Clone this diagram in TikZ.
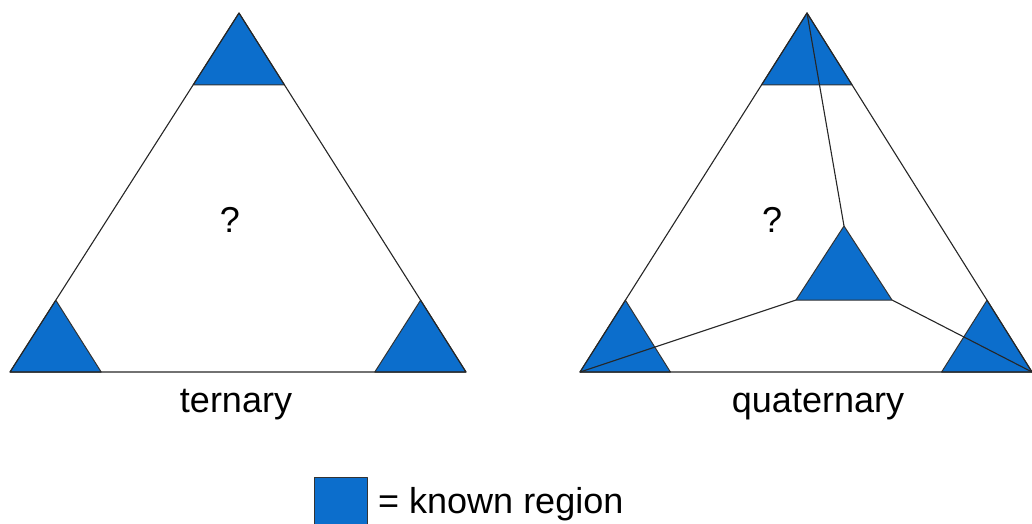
\documentclass[tikz,border=0pt]{standalone}
\usepackage{fontspec}
\setmainfont{Liberation Sans}
\usepackage{xcolor}
\usepackage{tikz}
\usetikzlibrary{calc}

\definecolor{knownblue}{RGB}{12,110,204}

\begin{document}
\begin{tikzpicture}[x=1pt, y=-1pt, line cap=round, line join=round,
    known/.style={fill=knownblue, draw=black!80, line width=1pt},
    edge/.style={draw=black!85, line width=1.1pt},
    lbl/.style={font=\fontsize{36}{40}\selectfont, inner sep=0pt}]

    \useasboundingbox (0,0) rectangle (1032,524);

    % Corners of the two diagrams
    \coordinate (tA) at (239,13);
    \coordinate (tB) at (10,372);
    \coordinate (tC) at (466,372);
    \coordinate (qA) at (807,13);
    \coordinate (qB) at (580,372);
    \coordinate (qC) at (1032,372);

    % Known regions at the corners
    \foreach \p/\q/\r in {tA/tB/tC, tB/tC/tA, tC/tA/tB, qA/qB/qC, qB/qC/qA, qC/qA/qB}{
        \draw[known] (\p) -- ($(\p)!0.2!(\q)$) -- ($(\p)!0.2!(\r)$) -- cycle;
    }

    % Known region inside the quaternary
    \coordinate (mA) at (844,226);
    \coordinate (mB) at (796,300);
    \coordinate (mC) at (892,300);
    \draw[known] (mA) -- (mB) -- (mC) -- cycle;

    % Outlines
    \draw[edge] (tA) -- (tB) -- (tC) -- cycle;
    \draw[edge] (qA) -- (qB) -- (qC) -- cycle;

    % Boundaries to the inner region
    \draw[edge] (qA) -- (mA);
    \draw[edge] (qB) -- (mB);
    \draw[edge] (qC) -- (mC);

    % Labels
    \node[lbl] (tq) at (230,220) {?};
    \node[lbl] (qq) at (772,220) {?};
    \node[lbl, anchor=base] (tname) at (236,412) {ternary};
    \node[lbl, anchor=base] (qname) at (818,412) {quaternary};

    % Legend
    \draw[known] (314,477) rectangle (367,524);
    \node[lbl, anchor=base west] (legend) at (378,513) {= known region};

\end{tikzpicture}
\end{document}
